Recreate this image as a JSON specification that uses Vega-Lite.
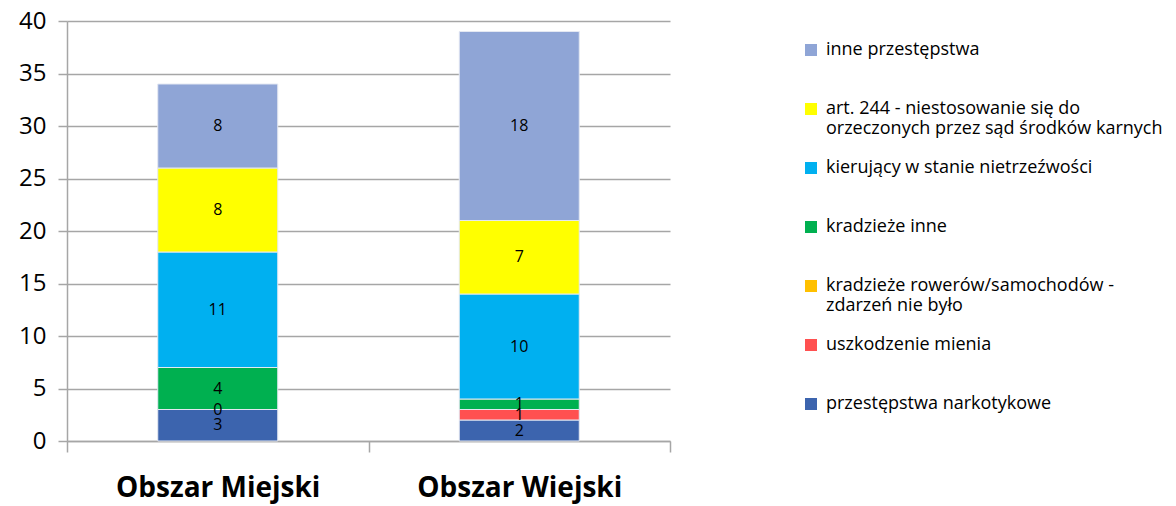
{
  "$schema": "https://vega.github.io/schema/vega-lite/v6.json",
  "width": 603,
  "height": 420,
  "autosize": {"type": "none"},
  "padding": {"left": 67, "top": 21, "right": 506, "bottom": 65},
  "background": "white",
  "config": {
    "view": {"stroke": null},
    "font": "Open Sans"
  },
  "data": {
    "values": [
      {"obszar": "Obszar Miejski", "kat": "przestępstwa narkotykowe", "o": 1, "v": 3},
      {"obszar": "Obszar Miejski", "kat": "uszkodzenie mienia", "o": 2, "v": 0},
      {"obszar": "Obszar Miejski", "kat": "kradzieże inne", "o": 4, "v": 4},
      {"obszar": "Obszar Miejski", "kat": "kierujący w stanie nietrzeźwości", "o": 5, "v": 11},
      {"obszar": "Obszar Miejski", "kat": "art. 244 - niestosowanie się do orzeczonych przez sąd środków karnych", "o": 6, "v": 8},
      {"obszar": "Obszar Miejski", "kat": "inne przestępstwa", "o": 7, "v": 8},
      {"obszar": "Obszar Wiejski", "kat": "przestępstwa narkotykowe", "o": 1, "v": 2},
      {"obszar": "Obszar Wiejski", "kat": "uszkodzenie mienia", "o": 2, "v": 1},
      {"obszar": "Obszar Wiejski", "kat": "kradzieże inne", "o": 4, "v": 1},
      {"obszar": "Obszar Wiejski", "kat": "kierujący w stanie nietrzeźwości", "o": 5, "v": 10},
      {"obszar": "Obszar Wiejski", "kat": "art. 244 - niestosowanie się do orzeczonych przez sąd środków karnych", "o": 6, "v": 7},
      {"obszar": "Obszar Wiejski", "kat": "inne przestępstwa", "o": 7, "v": 18}
    ]
  },
  "transform": [
    {"stack": "v", "groupby": ["obszar"], "sort": [{"field": "o", "order": "ascending"}], "as": ["y0", "y1"]},
    {"calculate": "(datum.y0 + datum.y1) / 2", "as": "ym"}
  ],
  "encoding": {
    "x": {
      "field": "obszar",
      "type": "nominal",
      "title": null,
      "scale": {"paddingInner": 0, "paddingOuter": 0},
      "axis": {
        "labelAngle": 0,
        "labelFont": "Open Sans",
        "labelFontSize": 28,
        "labelFontWeight": "bold",
        "labelColor": "#000000",
        "labelPadding": 22,
        "labelLimit": 400,
        "tickBand": "extent",
        "tickSize": 11,
        "tickColor": "#A6A6A6",
        "tickWidth": 1.5,
        "domainColor": "#A6A6A6",
        "domainWidth": 1.5,
        "grid": false
      }
    }
  },
  "layer": [
    {
      "mark": {"type": "bar", "width": 120, "stroke": "#E4E8F2", "strokeWidth": 1},
      "encoding": {
        "y": {
          "field": "y0",
          "type": "quantitative",
          "title": null,
          "scale": {"domain": [0, 40], "nice": false},
          "axis": {
            "values": [0, 5, 10, 15, 20, 25, 30, 35, 40],
            "labelFont": "Open Sans",
            "labelFontSize": 24,
            "labelColor": "#000000",
            "labelPadding": 12,
            "tickSize": 9,
            "tickColor": "#A6A6A6",
            "tickWidth": 1.5,
            "domainColor": "#A6A6A6",
            "domainWidth": 1.5,
            "grid": true,
            "gridColor": "#A6A6A6",
            "gridWidth": 1.5
          }
        },
        "y2": {"field": "y1"},
        "color": {
          "field": "kat",
          "type": "nominal",
          "scale": {
            "domain": [
              "inne przestępstwa",
              "art. 244 - niestosowanie się do orzeczonych przez sąd środków karnych",
              "kierujący w stanie nietrzeźwości",
              "kradzieże inne",
              "kradzieże rowerów/samochodów - zdarzeń nie było",
              "uszkodzenie mienia",
              "przestępstwa narkotykowe"
            ],
            "range": ["#8FA5D6", "#FFFF00", "#00B0F0", "#00B050", "#FFC000", "#FF5050", "#3C64AE"]
          },
          "legend": {
            "title": null,
            "orient": "none",
            "legendX": 735,
            "legendY": 20,
            "symbolType": "square",
            "symbolSize": 144,
            "symbolStrokeWidth": 0,
            "labelFont": "Open Sans",
            "labelFontSize": 18,
            "labelColor": "#000000",
            "labelLimit": 400,
            "labelOffset": 6,
            "rowPadding": 21,
            "labelExpr": "datum.label == 'art. 244 - niestosowanie się do orzeczonych przez sąd środków karnych' ? ['art. 244 - niestosowanie się do', 'orzeczonych przez sąd środków karnych'] : datum.label == 'kradzieże rowerów/samochodów - zdarzeń nie było' ? ['kradzieże rowerów/samochodów -', 'zdarzeń nie było'] : [datum.label, '']"
          }
        },
        "order": {"field": "o", "type": "quantitative"}
      }
    },
    {
      "mark": {"type": "text", "font": "Open Sans", "fontSize": 16, "color": "#000000", "baseline": "middle", "align": "center"},
      "encoding": {
        "y": {"field": "ym", "type": "quantitative"},
        "text": {"field": "v", "type": "quantitative"}
      }
    }
  ]
}
